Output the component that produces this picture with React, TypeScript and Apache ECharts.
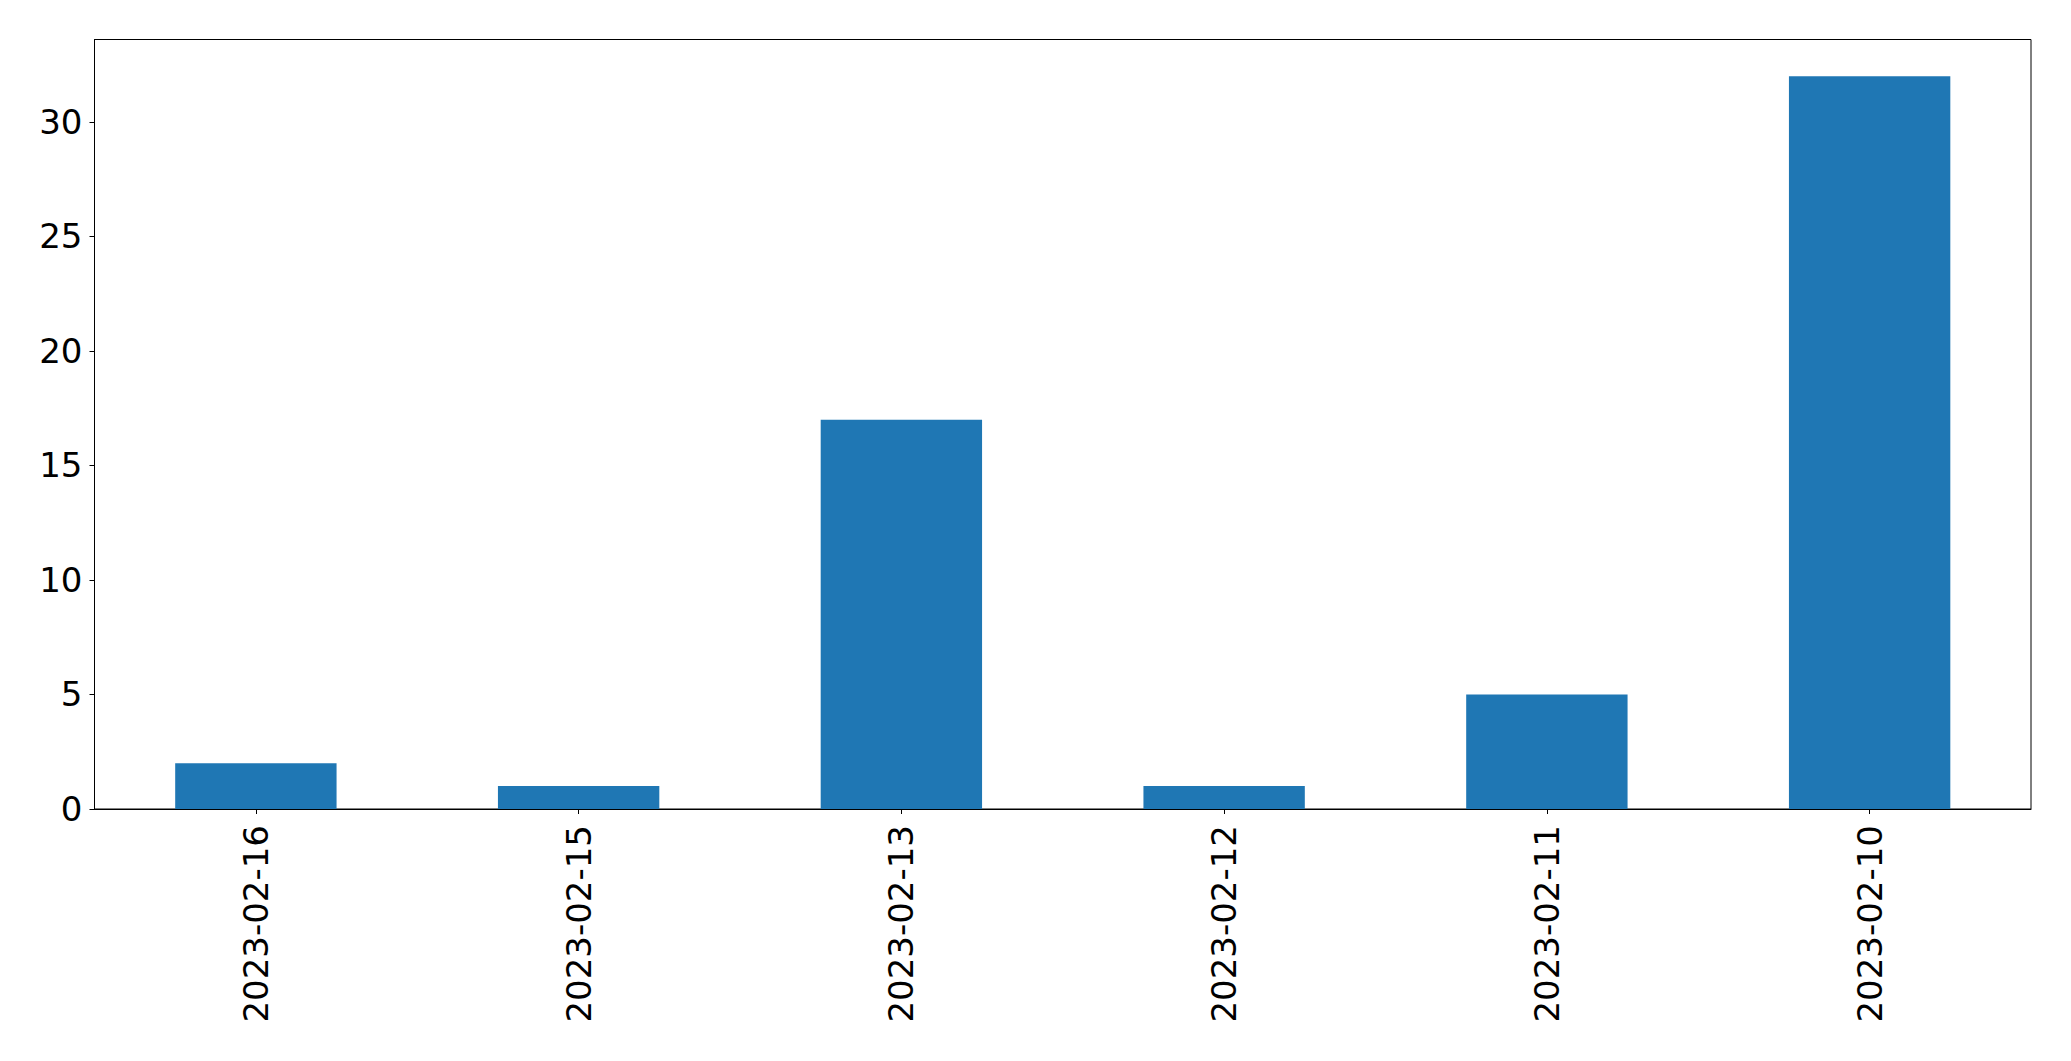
import React, { useEffect, useRef } from "react";
import * as echarts from "echarts";

const categories = ["2023-02-16", "2023-02-15", "2023-02-13", "2023-02-12", "2023-02-11", "2023-02-10"];
const counts = [2, 1, 17, 1, 5, 32];
const yTicks = [0, 5, 10, 15, 20, 25, 30];

export default function App() {
  const ref = useRef<HTMLDivElement>(null);
  useEffect(() => {
    if (!ref.current) return;
    const chart = echarts.init(ref.current, null, { renderer: "svg" });
    const font = "DejaVu Sans";
    chart.setOption({
      animation: false,
      backgroundColor: "#ffffff",
      grid: {
        left: 94.5,
        right: 40,
        top: 39.5,
        bottom: 252,
        show: true,
        borderColor: "#000000",
        borderWidth: 1,
        backgroundColor: "transparent",
      },
      xAxis: {
        type: "category",
        data: categories,
        boundaryGap: true,
        axisLine: { show: true, lineStyle: { color: "#000", width: 1 } },
        axisTick: { show: true, alignWithLabel: true, length: 5, lineStyle: { color: "#000", width: 1 } },
        axisLabel: {
          rotate: 90,
          fontSize: 34,
          fontFamily: font,
          color: "#000",
          margin: 16,
        },
        splitLine: { show: false },
      },
      yAxis: {
        type: "value",
        min: 0,
        max: 33.6,
        interval: 5,
        axisLine: { show: true, lineStyle: { color: "#000", width: 1 } },
        axisTick: { show: true, length: 5, customValues: yTicks, lineStyle: { color: "#000", width: 1 } },
        axisLabel: {
          fontSize: 34,
          fontFamily: font,
          color: "#000",
          margin: 12,
          customValues: yTicks,
        },
        splitLine: { show: false },
      },
      series: [
        {
          type: "bar",
          data: counts,
          barWidth: "50%",
          itemStyle: { color: "#1f77b4" },
        },
      ],
    });
    return () => chart.dispose();
  }, []);
  return (
    <div
      ref={ref}
      style={{ position: "fixed", left: 0, top: 0, width: 2071, height: 1061, background: "#fff" }}
    />
  );
}
